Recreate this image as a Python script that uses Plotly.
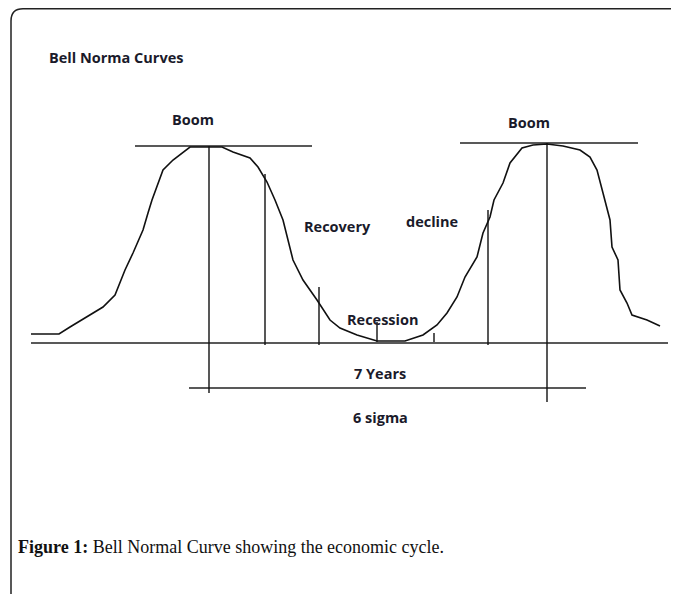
import plotly.graph_objects as go

# Hand-drawn bell curves (pixel space, y down)
curve_x = [31, 59, 70, 87, 103, 115, 125, 133, 143, 148, 152, 163, 173, 190, 206, 222, 233, 250, 258, 267, 275,
           283, 293, 303, 317, 330, 340, 357, 377, 405, 423, 437, 447, 457, 465, 477, 483, 490, 494,
           503, 510, 522, 533, 547, 563, 580, 590, 597, 603, 605, 610, 612, 618, 620, 627, 632, 647, 660]
curve_y = [334, 334, 327, 317, 307, 295, 270, 253, 230, 213, 200, 170, 160, 147, 147, 147, 152, 158, 167, 182, 200,
           220, 260, 280, 300, 320, 328, 335, 341, 341, 335, 325, 313, 297, 277, 257, 233, 217, 200,
           183, 163, 148, 145, 144, 146, 150, 157, 170, 193, 200, 220, 247, 260, 290, 303, 315, 320, 326]

# Horizontal rules: baseline, two boom lines, 7-years span
hline_y = [343, 146, 143, 388]
hline_x0 = [31, 135, 460, 189]
hline_x1 = [668, 312, 638, 586]

# Vertical markers
vline_x = [209, 265, 319, 377, 434, 488, 547]
vline_top = [146, 174, 287, 322, 333, 210, 143]
vline_bottom = [393, 345, 345, 342, 342, 345, 402]

# Labels
label_text = ["Boom", "Boom", "Recovery", "decline", "Recession", "7 Years", "6 sigma"]
label_x = [193, 529, 337, 432, 383, 380, 380]
label_y = [119, 122, 226, 221, 319, 373, 417]

title_text = "Bell Norma Curves"
caption_bold = "Figure 1:"
caption_rest = " Bell Normal Curve showing the economic cycle."

# page body margin of the html page (px)
OFF = 8

fig = go.Figure()

hx, hy = [], []
for y, a, b in zip(hline_y, hline_x0, hline_x1):
    hx += [a, b, None]
    hy += [y, y, None]
vx, vy = [], []
for x, t, b in zip(vline_x, vline_top, vline_bottom):
    vx += [x, x, None]
    vy += [t, b, None]

fig.add_trace(go.Scatter(x=hx, y=hy, mode="lines", line=dict(color="#222", width=1.6), hoverinfo="skip"))
fig.add_trace(go.Scatter(x=vx, y=vy, mode="lines", line=dict(color="#111", width=1.4), hoverinfo="skip"))
fig.add_trace(go.Scatter(x=curve_x, y=curve_y, mode="lines", line=dict(color="#111", width=1.6), hoverinfo="skip"))

# frame border with rounded top-left corner (top edge kept just inside the figure)
fig.add_shape(type="path", path="M 11,620 L 11,21 Q 11,8.8 23,8.8 L 700,8.8",
              line=dict(color="#222", width=1.5), xref="x", yref="y")

fig.add_annotation(x=47, y=57, text="<b>" + title_text + "</b>", showarrow=False, xanchor="left",
                   font=dict(family="Open Sans", size=14.5, color="#1a1a2a"))
for t, x, y in zip(label_text, label_x, label_y):
    fig.add_annotation(x=x, y=y, text="<b>" + t + "</b>", showarrow=False, xanchor="center",
                       font=dict(family="Open Sans", size=14.5, color="#1a1a2a"))

fig.add_annotation(x=16, y=547, text="<b>" + caption_bold + "</b>" + caption_rest, showarrow=False,
                   xanchor="left", font=dict(family="Liberation Serif", size=18, color="#111"))

fig.update_layout(width=679, height=594, margin=dict(l=0, r=0, t=0, b=0),
                  paper_bgcolor="white", plot_bgcolor="white", showlegend=False,
                  xaxis=dict(range=[OFF, 679 + OFF], visible=False, fixedrange=True),
                  yaxis=dict(range=[594 + OFF, OFF], visible=False, fixedrange=True))

fig.write_html("out.html")
